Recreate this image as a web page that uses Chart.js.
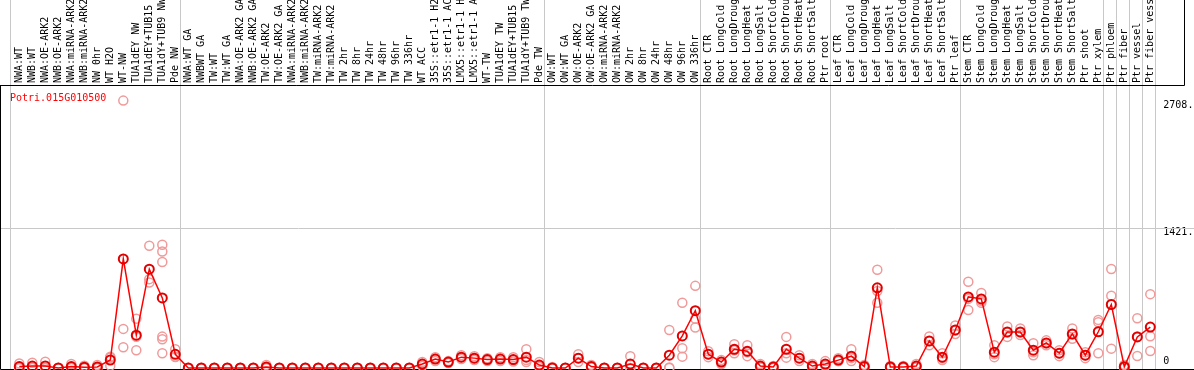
<!DOCTYPE html>
<html>
<head>
<script src="https://cdn.jsdelivr.net/npm/chart.js@4"></script>
<style>body{margin:0;background:#fff;overflow:hidden}</style>
</head>
<body>
<canvas id="exprChart" width="1194" height="370"></canvas>
<script>
const geneId = 'Potri.015G010500';

// sample names, cut to 14 characters like the original
const samples = [
  'NWA:WT', 'NWB:WT', 'NWA:OE-ARK2', 'NWB:OE-ARK2', 'NWA:miRNA-ARK2', 'NWB:miRNA-ARK2', 'NW 0hr', 'WT H2O', 'WT-NW',
  'TUA1dEY NW', 'TUA1dEY+TUB15', 'TUA1dY+TUB9 NW', 'Pde NW',
  'NWA:WT GA', 'NWBWT GA', 'TW:WT', 'TW:WT GA', 'NWA:OE-ARK2 GA', 'NWB:OE-ARK2 GA', 'TW:OE-ARK2', 'TW:OE-ARK2 GA',
  'NWA:miRNA-ARK2', 'NWB:miRNA-ARK2', 'TW:miRNA-ARK2', 'TW:miRNA-ARK2', 'TW 2hr', 'TW 8hr', 'TW 24hr', 'TW 48hr',
  'TW 96hr', 'TW 336hr', 'WT ACC', '35S::etr1-1 H2', '35S::etr1-1 AC', 'LMX5::etr1-1 H', 'LMX5::etr1-1 A', 'WT-TW',
  'TUA1dEY TW', 'TUA1dEY+TUB15', 'TUA1dY+TUB9 TW', 'Pde TW',
  'OW:WT', 'OW:WT GA', 'OW:OE-ARK2', 'OW:OE-ARK2 GA', 'OW:miRNA-ARK2', 'OW:miRNA-ARK2', 'OW 2hr', 'OW 8hr',
  'OW 24hr', 'OW 48hr', 'OW 96hr', 'OW 336hr',
  'Root CTR', 'Root LongCold', 'Root LongDroug', 'Root LongHeat', 'Root LongSalt', 'Root ShortCold', 'Root ShortDrou',
  'Root ShortHeat', 'Root ShortSalt', 'Ptr root',
  'Leaf CTR', 'Leaf LongCold', 'Leaf LongDroug', 'Leaf LongHeat', 'Leaf LongSalt', 'Leaf ShortCold', 'Leaf ShortDrou',
  'Leaf ShortHeat', 'Leaf ShortSalt', 'Ptr leaf',
  'Stem CTR', 'Stem LongCold', 'Stem LongDroug', 'Stem LongHeat', 'Stem LongSalt', 'Stem ShortCold', 'Stem ShortDrou',
  'Stem ShortHeat', 'Stem ShortSalt', 'Ptr shoot', 'Ptr xylem', 'Ptr phloem', 'Ptr fiber', 'Ptr vessel', 'Ptr fiber vess'
];

// mean expression per sample
const means = [
  15, 20, 21, 0, 14, 8, 10, 81, 1105, 332, 1001, 710, 139,
  0, 0, 0, 0, 0, 0, 10, 0, 0, 0, 0, 0, 0, 0, 0, 0, 0, 0, 40, 90, 60, 110, 100, 85, 90, 85, 110, 30,
  0, 0, 100, 15, 0, 0, 40, 0, 0, 130, 325, 580,
  140, 60, 190, 170, 20, 10, 190, 100, 20, 40,
  80, 120, 15, 812, 10, 10, 20, 274, 110, 385,
  720, 700, 160, 365, 365, 180, 254, 150, 345, 130, 367, 643, 13, 315, 414
];

// replicate values per sample
const replicates = [
  [45, 0, 0], [54, 6, 0], [64, 0, 0], [0, 0, 0], [40, 2, 0], [24, 0, 0], [30, 0, 0], [115, 104, 24],
  [2708, 396, 210], [500, 316, 180], [1238, 900, 866], [1248, 1180, 1073, 318, 291, 149], [190, 115, 112],
  [0, 0, 0], [0, 0, 0], [0, 0, 0], [0, 0, 0], [0, 0, 0], [0, 0, 0], [30, 0, 0], [0, 0, 0],
  [0, 0, 0], [0, 0, 0], [0, 0, 0], [0, 0, 0], [0, 0, 0], [0, 0, 0], [0, 0, 0], [0, 0, 0],
  [0, 0, 0], [0, 0, 0], [60, 40, 20], [110, 90, 70], [70, 60, 50], [130, 110, 90], [120, 100, 80], [100, 85, 70],
  [110, 90, 70], [110, 80, 65], [190, 80, 60], [60, 20, 10],
  [10, 0, 0], [0, 0, 0], [140, 100, 60], [30, 10, 5], [0, 0, 0], [0, 0, 0], [120, 0, 0], [0, 0, 0],
  [0, 0, 0], [385, 5, 0], [660, 200, 115], [832, 500, 410],
  [170, 140, 110], [80, 60, 40], [240, 180, 150], [230, 160, 120], [40, 15, 5], [20, 10, 0], [315, 150, 105],
  [130, 100, 70], [40, 15, 5], [70, 30, 20],
  [100, 70, 70], [190, 100, 70], [30, 10, 5], [995, 780, 660], [20, 10, 0], [20, 10, 0], [40, 15, 5],
  [320, 270, 230], [150, 100, 80], [430, 380, 345],
  [873, 700, 587], [760, 680, 660], [230, 140, 110], [420, 360, 315], [400, 360, 335], [250, 160, 130], [280, 250, 230],
  [180, 150, 120], [400, 340, 295], [160, 130, 100], [487, 464, 149], [1002, 731, 196], [30, 10, 0], [504, 319, 122],
  [748, 322, 173]
];

const yTicks = [0, 1421, 2708];
const yTickLabels = ['0', '1421.', '2708.'];
const yMax = 2866;
// index of the last sample in each block (a grey line follows it)
const groupEnds = [12, 40, 52, 62, 72, 83, 84, 85, 86, 87];

const monoFont = { family: 'DejaVu Sans Mono', size: 10 };

const repCount = Math.max(...replicates.map(r => r.length));
const repSets = [];
for (let k = 0; k < repCount; k++) {
  repSets.push({
    data: replicates.map(r => (k < r.length ? r[k] : null)),
    showLine: false,
    borderColor: '#f09a9a',
    backgroundColor: 'rgba(0,0,0,0)',
    pointRadius: 4.5,
    pointBorderWidth: 1.5,
    clip: false,
    order: 1
  });
}

const framePlugin = {
  id: 'framePlugin',
  beforeDatasetsDraw(chart) {
    const ctx = chart.ctx;
    const xs = chart.scales.x;
    const ys = chart.scales.y;
    ctx.save();
    ctx.lineWidth = 1;
    ctx.strokeStyle = '#c8c8c8';
    const seps = [xs.getPixelForValue(0) - 9].concat(groupEnds.map(i => xs.getPixelForValue(i) + 5));
    ctx.beginPath();
    seps.forEach(px => {
      const sx = Math.round(px) + 0.5;
      ctx.moveTo(sx, 0);
      ctx.lineTo(sx, 369);
    });
    const gy = Math.round(ys.getPixelForValue(yTicks[1])) + 0.5;
    ctx.moveTo(0, gy);
    ctx.lineTo(1194, gy);
    ctx.stroke();

    ctx.strokeStyle = '#000';
    ctx.beginPath();
    ctx.moveTo(0, 85.5); ctx.lineTo(1184.5, 85.5); ctx.lineTo(1184.5, 0);
    ctx.moveTo(0.5, 85.5); ctx.lineTo(0.5, 369.5); ctx.lineTo(1194, 369.5);
    ctx.stroke();

    ctx.fillStyle = '#ff0000';
    ctx.font = '10px "DejaVu Sans Mono"';
    ctx.textBaseline = 'alphabetic';
    ctx.fillText(geneId, 10, 101);
    ctx.restore();
  }
};

new Chart(document.getElementById('exprChart'), {
  type: 'line',
  data: {
    labels: samples,
    datasets: [{
      data: means,
      borderColor: '#ff0000',
      borderWidth: 1.5,
      pointBorderColor: '#e00000',
      pointBackgroundColor: 'rgba(0,0,0,0)',
      pointRadius: 4.5,
      pointBorderWidth: 2,
      tension: 0,
      clip: false,
      order: 0
    }].concat(repSets)
  },
  options: {
    responsive: false,
    animation: false,
    devicePixelRatio: 1,
    layout: { autoPadding: false, padding: { left: 19.3, right: 0, top: 0, bottom: 2 } },
    plugins: { legend: { display: false }, tooltip: { enabled: false } },
    scales: {
      x: {
        type: 'category',
        position: 'top',
        offset: false,
        grid: { display: false, drawTicks: false },
        border: { display: false },
        ticks: {
          autoSkip: false,
          minRotation: 90,
          maxRotation: 90,
          padding: 2,
          labelOffset: 12.5,
          color: '#000',
          font: monoFont
        },
        afterFit(scale) {
          scale.height = 85;
          scale.paddingLeft = 0;
          scale.paddingRight = 0;
        }
      },
      y: {
        position: 'right',
        min: 0,
        max: yMax,
        grid: { display: false, drawTicks: false },
        border: { display: false },
        afterBuildTicks(scale) {
          scale.ticks = yTicks.map(v => ({ value: v }));
        },
        ticks: {
          padding: 13,
          labelOffset: 5,
          color: '#000',
          font: monoFont,
          // the zero label sits above its line: push it up with two blank lines
          callback: (value) => {
            const i = yTicks.indexOf(value);
            return value === 0 ? [yTickLabels[i], '', ''] : yTickLabels[i];
          }
        },
        afterFit(scale) {
          scale.width = 43.7;
          scale.paddingTop = 0;
          scale.paddingBottom = 0;
        }
      }
    }
  },
  plugins: [framePlugin]
});
</script>
</body>
</html>
